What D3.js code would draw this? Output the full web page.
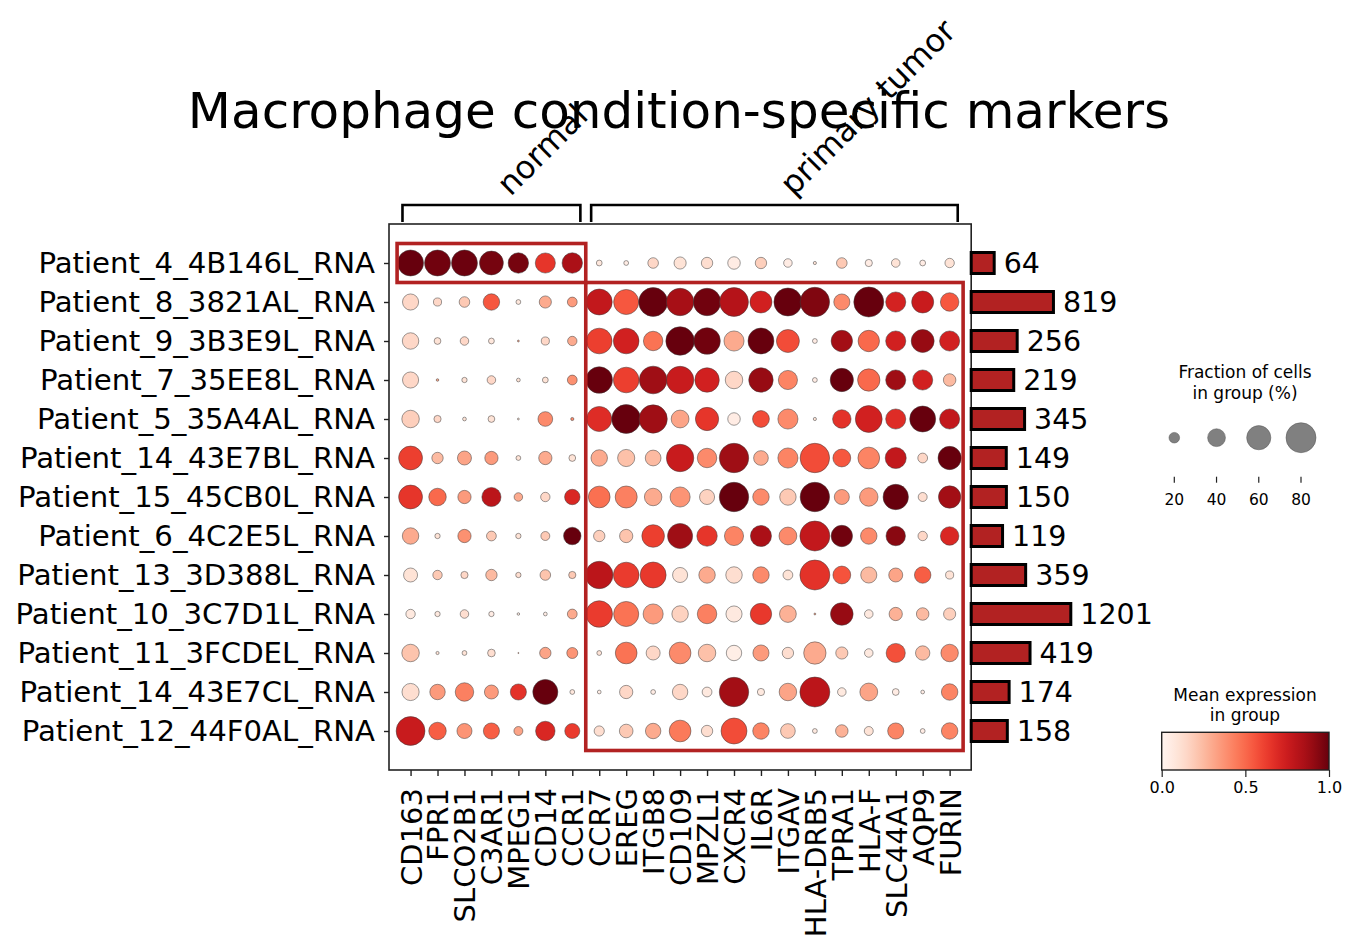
<!DOCTYPE html>
<html><head><meta charset="utf-8">
<script src="https://cdn.jsdelivr.net/npm/d3@7"></script>
<style>body{margin:0;background:#fff}svg{display:block;font-family:"DejaVu Sans",sans-serif}</style>
</head><body><svg id="c" width="1357" height="950"></svg>
<script>
const genes = ["CD163","FPR1","SLCO2B1","C3AR1","MPEG1","CD14","CCR1","CCR7","EREG","ITGB8","CD109","MPZL1","CXCR4","IL6R","ITGAV","HLA-DRB5","TPRA1","HLA-F","SLC44A1","AQP9","FURIN"];
const patients = ["Patient_4_4B146L_RNA","Patient_8_3821AL_RNA","Patient_9_3B3E9L_RNA","Patient_7_35EE8L_RNA","Patient_5_35A4AL_RNA","Patient_14_43E7BL_RNA","Patient_15_45CB0L_RNA","Patient_6_4C2E5L_RNA","Patient_13_3D388L_RNA","Patient_10_3C7D1L_RNA","Patient_11_3FCDEL_RNA","Patient_14_43E7CL_RNA","Patient_12_44F0AL_RNA"];
const cellCounts = [64,819,256,219,345,149,150,119,359,1201,419,174,158];
const groupNames = ["normal","primary tumor"];
const groupStart = [0,7];
const groupEnd = [6,20];
// fraction of cells expressing (%)
const fraction = [
 [66,66,66,59,48,47,48, 9, 7,20,24,22,25,22,15, 4,20,12,15, 9,17],
 [35,14,20,36, 7,24,18,66,63,76,71,71,76,53,73,78,35,80,47,53,42],
 [36,11,15, 9, 2,14,17,65,65,45,75,68,47,66,56, 7,51,51,47,56,47],
 [35, 3, 8,15, 5, 9,18,68,65,72,71,61,39,61,44, 7,57,54,47,47,25],
 [39,12, 5,11, 2,31, 4,63,76,74,40,57,25,37,47, 4,42,69,47,66,47],
 [59,22,29,27, 7,27,11,36,38,34,71,45,78,31,47,78,40,52,50,18,57],
 [59,39,27,44,15,17,33,52,53,39,47,32,78,36,36,78,32,42,64,16,54],
 [36, 8,27,18, 8,16,39,22,27,55,63,48,44,50,40,80,51,36,45,17,42],
 [29,17,12,22, 8,20,12,71,65,66,32,36,36,36,18,80,40,35,29,36,14],
 [17, 8,15, 8, 3, 5,18,68,63,47,36,45,35,51,37, 2,55,15,27,25,24],
 [39, 4, 7,13, 1,22,21, 7,52,29,52,39,33,35,22,54,24,15,44,30,39],
 [38,33,42,29,35,63, 7, 5,27, 7,33,18,78,12,39,80,15,40,11, 5,36],
 [76,39,32,35,16,45,32,19,28,33,52,22,66,36,31, 7,25,16,35, 7,36]
];
// mean expression in group (scaled 0-1)
const expression = [
 [1.00,0.98,0.99,0.97,0.97,0.65,0.85,0.08,0.05,0.15,0.10,0.12,0.05,0.18,0.05,0.10,0.20,0.05,0.10,0.05,0.10],
 [0.15,0.15,0.20,0.55,0.08,0.30,0.35,0.78,0.55,1.00,0.86,0.98,0.82,0.73,1.00,0.95,0.40,1.00,0.72,0.76,0.55],
 [0.15,0.10,0.15,0.08,0.30,0.15,0.30,0.62,0.73,0.47,1.00,0.98,0.30,1.00,0.58,0.05,0.87,0.50,0.73,0.90,0.73],
 [0.15,0.30,0.10,0.15,0.10,0.10,0.38,1.00,0.62,0.88,0.76,0.73,0.15,0.90,0.42,0.05,1.00,0.50,0.88,0.73,0.25],
 [0.18,0.15,0.10,0.10,0.10,0.40,0.40,0.68,1.00,0.88,0.32,0.65,0.05,0.58,0.40,0.10,0.66,0.73,0.68,1.00,0.78],
 [0.62,0.25,0.32,0.35,0.10,0.30,0.10,0.30,0.23,0.25,0.76,0.40,0.88,0.30,0.42,0.58,0.55,0.42,0.78,0.15,1.00],
 [0.65,0.50,0.35,0.80,0.30,0.15,0.70,0.48,0.43,0.30,0.37,0.17,1.00,0.40,0.20,1.00,0.35,0.35,1.00,0.12,0.87],
 [0.30,0.10,0.38,0.20,0.10,0.20,1.00,0.18,0.22,0.62,0.88,0.65,0.42,0.85,0.40,0.78,0.98,0.40,0.93,0.15,0.70],
 [0.10,0.20,0.15,0.25,0.12,0.22,0.20,0.80,0.63,0.64,0.10,0.30,0.12,0.40,0.10,0.66,0.56,0.25,0.32,0.53,0.10],
 [0.07,0.07,0.12,0.05,0.05,0.05,0.30,0.63,0.47,0.35,0.17,0.43,0.07,0.64,0.28,0.30,0.90,0.07,0.28,0.25,0.18],
 [0.22,0.10,0.10,0.12,0.30,0.32,0.37,0.10,0.47,0.15,0.40,0.23,0.04,0.35,0.12,0.30,0.20,0.07,0.57,0.25,0.40],
 [0.12,0.35,0.43,0.35,0.66,1.00,0.08,0.05,0.15,0.05,0.15,0.07,0.87,0.07,0.32,0.80,0.07,0.32,0.05,0.05,0.42],
 [0.76,0.53,0.37,0.53,0.32,0.70,0.63,0.12,0.20,0.30,0.45,0.12,0.58,0.42,0.20,0.07,0.28,0.10,0.42,0.05,0.42]
];
const sizeLegendTicks = [20,40,60,80];
const colorTicks = [0,0.5,1];
const titleText = "Macrophage condition-specific markers";

const svg = d3.select("#c");
const x = d3.scalePoint().domain(genes).range([389,971.2]).padding(0.8);
const y = d3.scalePoint().domain(patients).range([224,770]).padding(1);
const sx = x.step(), sy = y.step();
const r = d3.scalePow().exponent(0.75).domain([0,80]).range([0,15]);
const color = d3.scaleSequential(d3.interpolateReds).domain([0,1]);

// title
svg.append("text").attr("x",679).attr("y",128).attr("text-anchor","middle")
  .attr("font-size",50).text(titleText);

// dots
const cells = [];
patients.forEach((p,i)=>genes.forEach((g,j)=>cells.push({p,g,f:fraction[i][j],e:expression[i][j]})));
svg.append("g").selectAll("circle").data(cells).join("circle")
  .attr("cx",d=>x(d.g)).attr("cy",d=>y(d.p)).attr("r",d=>r(d.f))
  .attr("fill",d=>color(d.e)).attr("stroke","#3a3a3a").attr("stroke-width",0.5);

// highlight rectangles
const hl = [
  {c0:genes[0],c1:genes[6],r0:patients[0],r1:patients[0]},
  {c0:genes[7],c1:genes[20],r0:patients[1],r1:patients[12]}
];
svg.append("g").selectAll("rect").data(hl).join("rect")
  .attr("x",d=>x(d.c0)-sx/2).attr("y",d=>y(d.r0)-sy/2)
  .attr("width",d=>x(d.c1)-x(d.c0)+sx).attr("height",d=>y(d.r1)-y(d.r0)+sy)
  .attr("fill","none").attr("stroke","#b22222").attr("stroke-width",3.6);

// frame
svg.append("rect").attr("x",389).attr("y",224).attr("width",582.2).attr("height",546)
  .attr("fill","none").attr("stroke","#222").attr("stroke-width",1.6);

// axes
const ya = svg.append("g").attr("transform","translate(389,0)")
  .call(d3.axisLeft(y).tickSize(5).tickPadding(9));
ya.select(".domain").remove();
ya.selectAll("line").attr("stroke","#222").attr("stroke-width",1.4);
ya.selectAll("text").attr("font-size",29.2).attr("font-family","DejaVu Sans").attr("fill","#000");

const xa = svg.append("g").attr("transform","translate(0,770)")
  .call(d3.axisBottom(x).tickSize(6));
xa.select(".domain").remove();
xa.selectAll("line").attr("stroke","#222").attr("stroke-width",1.4);
xa.selectAll("text").attr("font-size",29).attr("font-family","DejaVu Sans").attr("fill","#000")
  .attr("text-anchor","end").attr("transform","translate(0,18) rotate(-90)")
  .attr("x",0).attr("y",0).attr("dy","0.36em");

// group brackets
const gb = svg.append("g");
groupNames.forEach((nm,k)=>{
  const a = x(genes[groupStart[k]]) - 0.3*sx, b = x(genes[groupEnd[k]]) + 0.3*sx;
  gb.append("path").attr("d",`M${a},222V205H${b}V222`).attr("fill","none")
    .attr("stroke","#000").attr("stroke-width",2.6);
  const cx = (a+b)/2;
  gb.append("text").attr("transform",`translate(${cx+19},197) rotate(-45)`)
    .attr("font-size",32).text(nm);
});

// cell count bars
const xb = d3.scaleSqrt().domain([0,d3.max(cellCounts)]).range([0,99.6]);
const bh = 21;
const bars = svg.append("g");
bars.selectAll("rect").data(patients).join("rect")
  .attr("x",971.2).attr("y",(d)=>y(d)-bh/2)
  .attr("width",(d,i)=>xb(cellCounts[i])).attr("height",bh)
  .attr("fill","#b22222").attr("stroke","#000").attr("stroke-width",3);
bars.selectAll("text").data(patients).join("text")
  .attr("x",(d,i)=>971.2+xb(cellCounts[i])+9.5).attr("y",d=>y(d)).attr("dy","0.35em")
  .attr("font-size",28.5).text((d,i)=>cellCounts[i]);

// size legend
const lg = svg.append("g");
lg.append("text").attr("x",1245).attr("y",377.5).attr("text-anchor","middle").attr("font-size",17).text("Fraction of cells");
lg.append("text").attr("x",1245).attr("y",398.5).attr("text-anchor","middle").attr("font-size",17).text("in group (%)");
const lx = d3.scalePoint().domain(sizeLegendTicks).range([1174.3,1301]);
lg.selectAll("circle").data(sizeLegendTicks).join("circle")
  .attr("cx",d=>lx(d)).attr("cy",437.7).attr("r",d=>r(d))
  .attr("fill","#808080").attr("stroke","#555").attr("stroke-width",0.5);
lg.selectAll("line").data(sizeLegendTicks).join("line")
  .attr("x1",d=>lx(d)).attr("x2",d=>lx(d)).attr("y1",476.7).attr("y2",482.7)
  .attr("stroke","#222").attr("stroke-width",1.2);
lg.selectAll("text.t").data(sizeLegendTicks).join("text").attr("class","t")
  .attr("x",d=>lx(d)).attr("y",504.5).attr("text-anchor","middle").attr("font-size",15.5).text(d=>d);

// colorbar
const cb = svg.append("g");
const defs = svg.append("defs");
const grad = defs.append("linearGradient").attr("id","g1");
d3.range(0,1.0001,0.05).forEach(t=>grad.append("stop").attr("offset",t).attr("stop-color",color(t)));
cb.append("text").attr("x",1245).attr("y",701).attr("text-anchor","middle").attr("font-size",17).text("Mean expression");
cb.append("text").attr("x",1245).attr("y",721).attr("text-anchor","middle").attr("font-size",17).text("in group");
const cx = d3.scaleLinear().domain([0,1]).range([1161.7,1329]);
cb.append("rect").attr("x",1161.7).attr("y",732.3).attr("width",1329-1161.7).attr("height",37.7)
  .attr("fill","url(#g1)").attr("stroke","#222").attr("stroke-width",1.4);
const ca = cb.append("g").attr("transform","translate(0,770)")
  .call(d3.axisBottom(cx).tickValues(colorTicks).tickFormat(d3.format(".1f")).tickSize(7).tickPadding(5));
ca.select(".domain").remove();
ca.selectAll("line").attr("stroke","#222").attr("stroke-width",1.2);
ca.selectAll("text").attr("font-size",16).attr("font-family","DejaVu Sans").attr("fill","#000");
</script></body></html>
